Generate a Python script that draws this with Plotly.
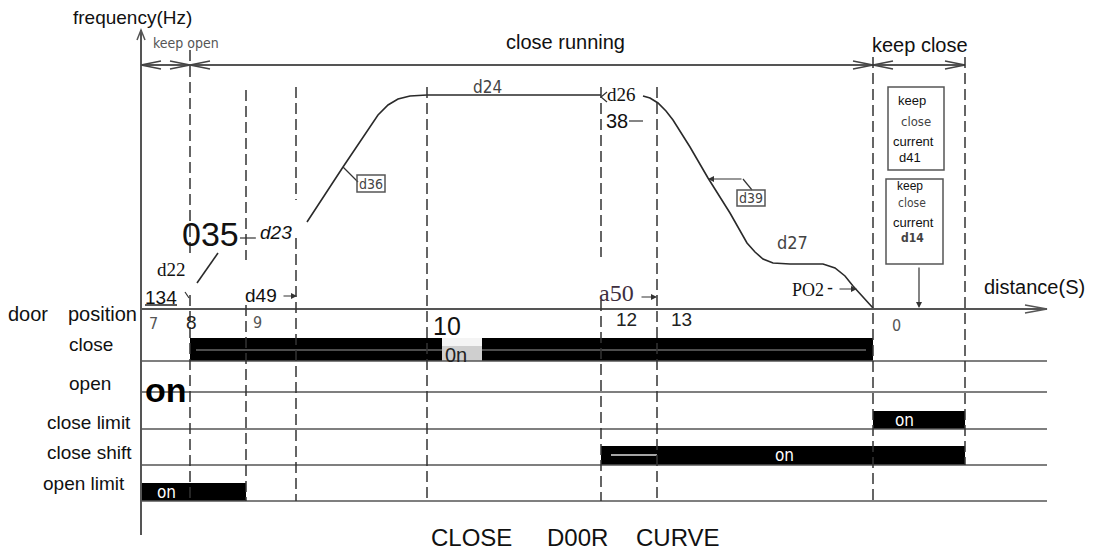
import plotly.graph_objects as go

W, H = 1093, 551

# ---------------- data ----------------
# distance stations (vertical dashed guides)
station_x = [190, 246, 296, 427, 601, 657, 873, 965]
station_top = [50, 90, 87, 87, 87, 87, 57, 57]
station_bottom = [501, 501, 501, 501, 501, 501, 501, 465]
station_gap_top = [257, 260, 200, None, 257, None, None, None]
station_gap_bottom = [295, 305, 238, None, 300, None, None, None]

# axes
axis_x = 141
freq_axis_top = 30
freq_axis_bottom = 535
dist_axis_y = 309
axis_right = 1047

# signal rows
row_names = ["close", "open", "close limit", "close shift", "open limit"]
row_label_x = [91, 90, 89, 89, 84]
row_label_y = [344, 383, 422, 452, 483]
row_line_y = [361, 392, 429, 465, 501]

# "on" bars
bar_row = ["close", "close limit", "close shift", "open limit"]
bar_x0 = [190, 873, 601, 141]
bar_x1 = [873, 965, 965, 246]
bar_y0 = [338, 411, 446, 483]
bar_y1 = [361, 429, 465, 501]
bar_label = ["", "on", "on", "on"]
bar_label_x = [None, 904, 784, 166]
bar_label_y = [None, 420, 455, 492]

# frequency curve pieces (d22 start, acceleration + d24 constant, deceleration)
start_x = [197, 205, 218]
start_y = [283, 272, 253]
accel_x = [307, 343, 378, 388, 398, 410, 427, 601]
accel_y = [222, 167, 115, 105, 99, 96, 95, 95]
decel_x = [643, 650, 658, 666, 673, 690, 708, 730, 747, 755, 763, 773, 790, 823, 835, 845, 853, 873]
decel_y = [96, 98, 103, 111, 120, 147, 178, 213, 243, 252, 259, 263, 264, 264, 268, 276, 286, 308]

# dimension line at top
dim_y = 65
dim_x0, dim_x1 = 141, 965
dim_arrow_x = [141, 190, 190, 873, 873, 965]
dim_arrow_dir = [-1, 1, -1, 1, -1, 1]
phase_labels = ["keep open", "close running", "keep close"]

# door position numbers
pos_labels = ["7", "8", "9", "10", "12", "13", "0"]
pos_x = [153, 191, 257, 447, 626, 681, 896]
pos_y = [323, 322, 322, 326, 319, 319, 325]

title_words = ["CLOSE", "D00R", "CURVE"]
title_x = [471, 577, 678]

# ---------------- figure ----------------
ARIAL = "Liberation Sans, Arial, sans-serif"
CAD = "DejaVu Sans Condensed, DejaVu Sans, sans-serif"
SERIF = "Liberation Serif, Times New Roman, serif"
NARROW = "Liberation Sans Narrow, Arial Narrow, Liberation Sans, sans-serif"

fig = go.Figure()
shapes = []
annotations = []

LINE = "#4a4a4a"


def line(x0, y0, x1, y1, color=LINE, width=1.5, dash=None):
    d = dict(type="line", xref="x", yref="y", x0=x0, y0=y0, x1=x1, y1=y1,
             line=dict(color=color, width=width), layer="above")
    if dash:
        d["line"]["dash"] = dash
    shapes.append(d)


def path(p, color=LINE, width=1.5):
    shapes.append(dict(type="path", xref="x", yref="y", path=p,
                       line=dict(color=color, width=width), layer="above"))


def rect(x0, y0, x1, y1, fill, color=None, width=0, layer="above"):
    shapes.append(dict(type="rect", xref="x", yref="y", x0=x0, y0=y0, x1=x1, y1=y1,
                       fillcolor=fill, line=dict(color=color or fill, width=width), layer=layer))


def text(t, x, y, size, family=ARIAL, color="#111", xanchor="center", **kw):
    annotations.append(dict(text=t, x=x, y=y, xref="x", yref="y", showarrow=False,
                            xanchor=xanchor, yanchor="middle",
                            font=dict(size=size, family=family, color=color), **kw))


def arrow(tx, ty, fx, fy, width=1.2):
    annotations.append(dict(text="", x=tx, y=ty, ax=fx, ay=fy, xref="x", yref="y",
                            axref="x", ayref="y", showarrow=True, arrowhead=2,
                            arrowsize=1, arrowwidth=width, arrowcolor="#333", standoff=0))


# bars first (so lines draw over)
for x0, x1, y0, y1 in zip(bar_x0, bar_x1, bar_y0, bar_y1):
    rect(x0, y0, x1, y1, "#000000")
# inner thin lines in bars
line(196, 350, 866, 350, color="#9a9a9a", width=1)
line(611, 455, 657, 455, color="#dddddd", width=1.5)
# gap in close bar
rect(442, 338, 482, 346, "#f4f4f4")
rect(442, 346, 482, 361, "#cfcfcf")

# row lines
for ry in row_line_y:
    line(axis_x, ry, axis_right, ry, color="#555", width=1.5)

# axes
line(axis_x, freq_axis_top, axis_x, freq_axis_bottom, color="#555", width=2)
path(f"M {axis_x-4},{freq_axis_top+10} L {axis_x},{freq_axis_top} L {axis_x+4},{freq_axis_top+10}", color="#555", width=1.5)
line(axis_x, dist_axis_y, axis_right, dist_axis_y, color="#555", width=2)
path(f"M {axis_right-22},{dist_axis_y-4} L {axis_right},{dist_axis_y} L {axis_right-22},{dist_axis_y+4}", color="#555", width=1.5)

# dimension line
line(dim_x0, dim_y, dim_x1, dim_y, color="#555", width=2)
for ax_, d in zip(dim_arrow_x, dim_arrow_dir):
    path(f"M {ax_-d*20},{dim_y-4} L {ax_},{dim_y} L {ax_-d*20},{dim_y+4}", color="#444", width=1.5)

# dashed station lines
for sx, t, b, g0, g1 in zip(station_x, station_top, station_bottom, station_gap_top, station_gap_bottom):
    if g0 is None:
        line(sx, t, sx, b, color="#333", width=1.5, dash="11px,5px")
    else:
        line(sx, t, sx, g0, color="#333", width=1.5, dash="11px,5px")
        line(sx, g1, sx, b, color="#333", width=1.5, dash="11px,5px")

# frequency curve
for cx, cy in [(start_x, start_y), (accel_x, accel_y), (decel_x, decel_y)]:
    fig.add_trace(go.Scatter(x=cx, y=cy, mode="lines", line=dict(color="#2a2a2a", width=1.6),
                             hoverinfo="skip", showlegend=False))

# leaders and small marks
line(240, 238, 256, 238, color="#333", width=1.2)      # d23 leader
line(629, 121, 643, 121, color="#333", width=1.2)      # 38 leader
line(343, 167, 358, 182, color="#333", width=1.2)      # d36 leader
line(743, 179, 752, 190, color="#333", width=1.2)      # d39 leader
line(145, 305, 177, 305, color="#222", width=1.5)      # underline 134
line(185, 292, 189, 298, color="#333", width=1.2)      # small tick near 8
arrow(708, 179, 743, 179)
arrow(297, 296, 282, 296)
arrow(657, 297, 640, 297)
arrow(857, 289, 838, 289)
arrow(919, 308, 919, 266)
path("M 607,92 L 601,97 L 607,102", color="#333", width=1.2)

# boxes
rect(357, 175, 385, 192, "rgba(0,0,0,0)", color="#555", width=1.5)
rect(737, 190, 765, 206, "rgba(0,0,0,0)", color="#555", width=1.5)
rect(888, 87, 944, 170, "rgba(0,0,0,0)", color="#555", width=1.5)
rect(886, 179, 943, 264, "rgba(0,0,0,0)", color="#555", width=1.5)

# ---------------- text ----------------
text("frequency(Hz)", 132, 17, 19)
text(phase_labels[0], 186, 43, 14, family=CAD, color="#555")
text(phase_labels[1], 565, 42, 20)
text(phase_labels[2], 920, 45, 20)
text("distance(S)", 1034, 287, 20)

text("door", 28, 314, 20)
text("position", 102, 314, 20)
for name, lx, ly in zip(row_names, row_label_x, row_label_y):
    text(name, lx, ly, 19)

for t, px, py in zip(pos_labels, pos_x, pos_y):
    if t in ("7", "9", "0"):
        text(t, px, py, 16, family=CAD, color="#555")
    elif t == "10":
        text(t, px, py, 25)
    else:
        text(t, px, py, 19, color="#222")

for t, bx, by in zip(bar_label, bar_label_x, bar_label_y):
    if t:
        text(t, bx, by, 17, family=CAD, color="#ffffff")
text("0n", 456, 355, 20, color="#222")
text("<b>on</b>", 166, 390, 34, color="#000")

text("d24", 487, 87, 17, family=CAD, color="#444")
text("d26", 621, 94, 19, family=SERIF, color="#111")
text("38", 617, 121, 20, color="#111")
text("d36", 371, 184, 14, family=CAD, color="#444")
text("d39", 751, 198, 14, family=CAD, color="#444")
text("d27", 792, 242, 18, family=CAD, color="#444")
text("PO2", 808, 290, 18, family=SERIF, color="#111")
text("-", 830, 288, 18, color="#111")
text("a50", 616, 293, 24, family=SERIF, color="#3e2e3e")
text("d49", 261, 295, 19)
text("134", 161, 297, 19)
text("d22", 171, 269, 19, family=SERIF)
text("035", 210, 234, 34, family=NARROW)
text("<i>d23</i>", 276, 232, 19)

text("keep", 912, 100, 13)
text("close", 916, 121, 13, family=CAD, color="#444")
text("current", 913, 141, 13)
text("d41", 910, 157, 13)
text("keep", 910, 186, 12)
text("close", 912, 203, 12, family=CAD, color="#444")
text("current", 913, 222, 13)
text("<b>d14</b>", 912, 238, 12, family=CAD, color="#444")

for t, tx in zip(title_words, title_x):
    text(t, tx, 537, 24)

fig.update_layout(
    width=W, height=H,
    margin=dict(l=0, r=0, t=0, b=0),
    paper_bgcolor="white", plot_bgcolor="white",
    xaxis=dict(range=[0, W], visible=False, fixedrange=True),
    yaxis=dict(range=[H, 0], visible=False, fixedrange=True),
    shapes=shapes, annotations=annotations, showlegend=False,
)

fig.write_html("out.html", config={"displayModeBar": False},
               post_script="document.body.style.margin='0';")
